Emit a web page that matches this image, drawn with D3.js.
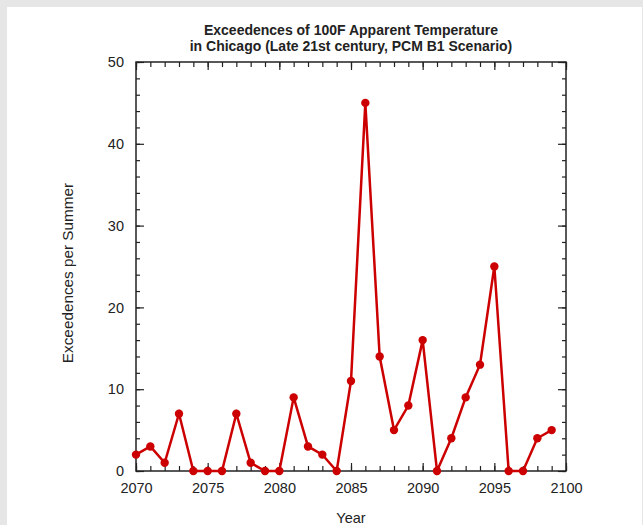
<!DOCTYPE html>
<html>
<head>
<meta charset="utf-8">
<script src="https://cdn.jsdelivr.net/npm/d3@7"></script>
<style>
  html, body { margin: 0; padding: 0; background: #e6e6e6; }
  svg { display: block; }
  text { font-family: "Liberation Sans", Arial, Helvetica, sans-serif; fill: #222; }
</style>
</head>
<body>
<script>
// Annual counts of days above 100F apparent temperature, Chicago, PCM B1
const years = [2070, 2071, 2072, 2073, 2074, 2075, 2076, 2077, 2078, 2079,
               2080, 2081, 2082, 2083, 2084, 2085, 2086, 2087, 2088, 2089,
               2090, 2091, 2092, 2093, 2094, 2095, 2096, 2097, 2098, 2099];
const exceedences = [2, 3, 1, 7, 0, 0, 0, 7, 1, 0,
                     0, 9, 3, 2, 0, 11, 45, 14, 5, 8,
                     16, 0, 4, 9, 13, 25, 0, 0, 4, 5];
const xTickLabels = [2070, 2075, 2080, 2085, 2090, 2095, 2100];
const yTickLabels = [0, 10, 20, 30, 40, 50];
const titleLines = ["Exceedences of 100F Apparent Temperature",
                    "in Chicago (Late 21st century, PCM B1 Scenario)"];

const W = 643, H = 525;
const plot = { left: 136, right: 566, top: 62, bottom: 471 };

const svg = d3.select("body").append("svg").attr("width", W).attr("height", H);

// white page inside the grey frame
svg.append("rect").attr("x", 7).attr("y", 7).attr("width", 635).attr("height", H - 7).attr("fill", "#fff");

const x = d3.scaleLinear().domain([2070, 2100]).range([plot.left, plot.right]);
const y = d3.scaleLinear().domain([0, 50]).range([plot.bottom, plot.top]);

const minorX = d3.range(2070, 2101, 1);
const minorY = d3.range(0, 51, 2);

function styleAxis(g) {
  g.select(".domain").remove();
  g.selectAll(".tick line").attr("stroke", "#222").attr("stroke-width", 1.2);
  g.selectAll(".tick text").attr("font-size", 14.5).attr("fill", "#222");
}

// minor ticks (inward, all four sides)
svg.append("g").attr("transform", `translate(0,${plot.bottom})`)
  .call(d3.axisTop(x).tickValues(minorX).tickSize(5).tickFormat("")).call(styleAxis);
svg.append("g").attr("transform", `translate(0,${plot.top})`)
  .call(d3.axisBottom(x).tickValues(minorX).tickSize(5).tickFormat("")).call(styleAxis);
svg.append("g").attr("transform", `translate(${plot.left},0)`)
  .call(d3.axisRight(y).tickValues(minorY).tickSize(4).tickFormat("")).call(styleAxis);
svg.append("g").attr("transform", `translate(${plot.right},0)`)
  .call(d3.axisLeft(y).tickValues(minorY).tickSize(4).tickFormat("")).call(styleAxis);

// major ticks
svg.append("g").attr("transform", `translate(0,${plot.bottom})`)
  .call(d3.axisTop(x).tickValues(xTickLabels).tickSize(8).tickFormat("")).call(styleAxis);
svg.append("g").attr("transform", `translate(0,${plot.top})`)
  .call(d3.axisBottom(x).tickValues(xTickLabels).tickSize(8).tickFormat("")).call(styleAxis);
svg.append("g").attr("transform", `translate(${plot.left},0)`)
  .call(d3.axisRight(y).tickValues(yTickLabels).tickSize(8).tickFormat("")).call(styleAxis);
svg.append("g").attr("transform", `translate(${plot.right},0)`)
  .call(d3.axisLeft(y).tickValues(yTickLabels).tickSize(8).tickFormat("")).call(styleAxis);

// tick labels
const xLab = svg.append("g").attr("transform", `translate(0,${plot.bottom})`)
  .call(d3.axisBottom(x).tickValues(xTickLabels).tickSize(0).tickPadding(12).tickFormat(d3.format("d")));
xLab.call(styleAxis);
const yLab = svg.append("g").attr("transform", `translate(${plot.left},0)`)
  .call(d3.axisLeft(y).tickValues(yTickLabels).tickSize(0).tickPadding(12).tickFormat(d3.format("d")));
yLab.call(styleAxis);

// frame
svg.append("rect")
  .attr("x", plot.left).attr("y", plot.top)
  .attr("width", plot.right - plot.left).attr("height", plot.bottom - plot.top)
  .attr("fill", "none").attr("stroke", "#222").attr("stroke-width", 1.5);

// series
const line = d3.line().x((d, i) => x(years[i])).y(d => y(d));
svg.append("path").datum(exceedences)
  .attr("d", line).attr("fill", "none")
  .attr("stroke", "#cc0000").attr("stroke-width", 2.5).attr("stroke-linejoin", "miter");

svg.append("g").selectAll("circle").data(exceedences).join("circle")
  .attr("cx", (d, i) => x(years[i])).attr("cy", d => y(d)).attr("r", 4.2)
  .attr("fill", "#cc0000");

// titles
svg.append("text").attr("x", 351).attr("y", 35).attr("text-anchor", "middle")
  .attr("font-size", 14).attr("font-weight", "bold").text(titleLines[0]);
svg.append("text").attr("x", 351).attr("y", 51).attr("text-anchor", "middle")
  .attr("font-size", 14).attr("font-weight", "bold").text(titleLines[1]);

svg.append("text").attr("x", 351).attr("y", 523).attr("text-anchor", "middle")
  .attr("font-size", 14.5).text("Year");

svg.append("text").attr("transform", `translate(73,273) rotate(-90)`)
  .attr("text-anchor", "middle").attr("font-size", 15.3).text("Exceedences per Summer");
</script>
</body>
</html>
